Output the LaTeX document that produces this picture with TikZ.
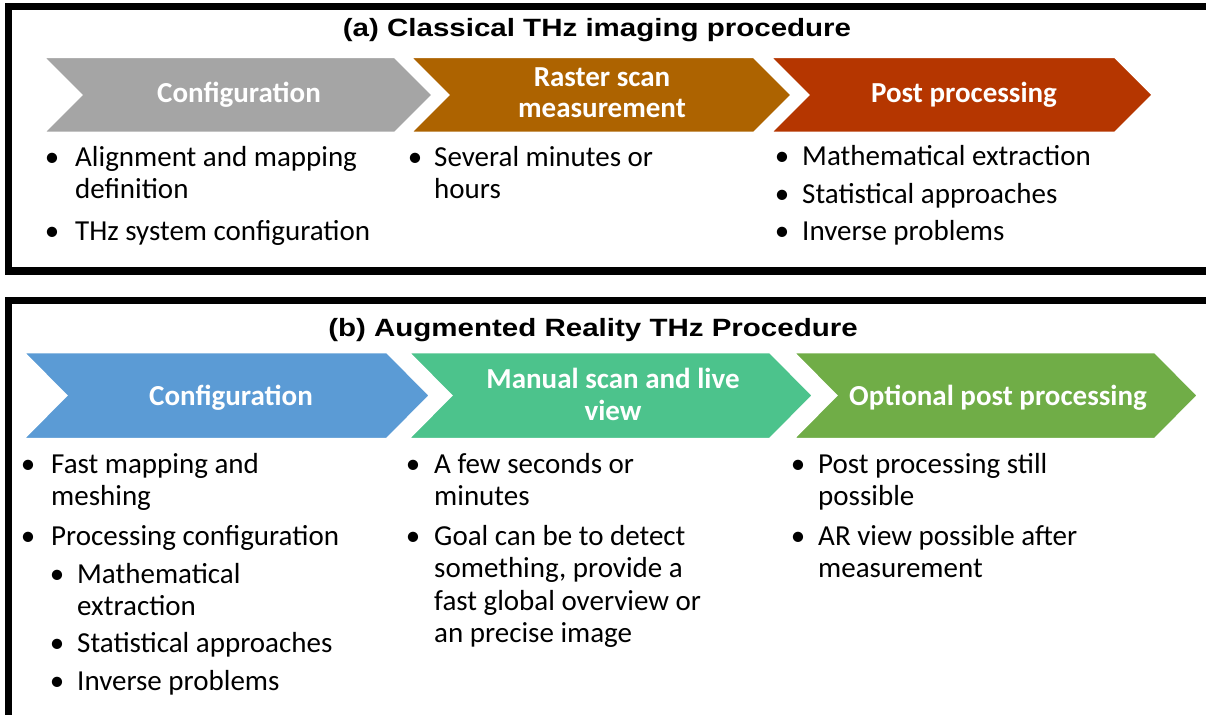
\documentclass[tikz,border=0pt]{standalone}
\usepackage{fontspec}
\newfontfamily\calibri{Carlito}
\newfontfamily\arialfam{Liberation Sans}
\newcommand\bodyfont{\calibri\fontsize{29}{31}\selectfont}
\newcommand\chevfont{\calibri\bfseries\fontsize{29}{31}\selectfont}
\newcommand\titlefont{\arialfam\bfseries\fontsize{25}{30}\selectfont}
\newcommand\widetitle[1]{\scalebox{1.18}[1]{#1}}
\definecolor{cgray}{HTML}{A5A5A5}
\definecolor{cbrown}{HTML}{AD6300}
\definecolor{cred}{HTML}{B53600}
\definecolor{cblue}{HTML}{5B9BD5}
\definecolor{cteal}{HTML}{4CC38C}
\definecolor{cgreen}{HTML}{70AD47}
\tikzset{
  frame/.style={draw=black, line width=7.5pt},
  chevshape/.style={draw=white, line width=2.5pt, line join=miter},
  chevtxt/.style={font=\chevfont, text=white, inner sep=0pt, anchor=base},
  ttl/.style={font=\titlefont, text=black, inner sep=0pt, anchor=base},
  bodytxt/.style={font=\bodyfont, text=black, inner sep=0pt, anchor=base west},
  bul/.style={font=\bodyfont, text=black, inner sep=0pt, anchor=base},
}
% #1 left x, #2 top y, #3 width, #4 height, #5 depth, #6 colour
\newcommand\mychev[6]{%
  \path[chevshape, fill=#6] (#1,#2) -- ({#1+#3-#5},#2) -- ({#1+#3},{#2+#4/2})
    -- ({#1+#3-#5},{#2+#4}) -- (#1,{#2+#4}) -- ({#1+#5},{#2+#4/2}) -- cycle;}
\begin{document}
\begin{tikzpicture}[x=1pt,y=-1pt]
\useasboundingbox (0,0) rectangle (1206,714);
\clip (0,0) rectangle (1206,714);
\fill[white] (0,0) rectangle (1206,714);
% frames
\draw[frame] (8.5,6.7) rectangle (1220,271);
\draw[frame] (8.5,300.5) rectangle (1220,720);

% ---------- (a) ----------
\node[ttl] (ta) at (597,37) {\widetitle{(a) Classical THz imaging procedure}};
\mychev{43}{57}{390}{76}{38}{cgray}
\mychev{410}{57}{382}{76}{38}{cbrown}
\mychev{770}{57}{383}{76}{38}{cred}
\node[chevtxt] (ca1) at (239,103) {Configuration};
\node[chevtxt] (ca2a) at (602,87) {Raster scan};
\node[chevtxt] (ca2b) at (602,118) {measurement};
\node[chevtxt] (ca3) at (964,103) {Post processing};

\node[bul] (ba11) at (52,167) {•};
\node[bodytxt] (ia11) at (75,167) {Alignment and mapping};
\node[bodytxt] (ia12) at (75,198) {definition};
\node[bul] (ba12) at (52,240) {•};
\node[bodytxt] (ia13) at (75,240) {THz system configuration};

\node[bul] (ba21) at (415,167) {•};
\node[bodytxt] (ia21) at (434,167) {Several minutes or};
\node[bodytxt] (ia22) at (434,198) {hours};

\node[bul] (ba31) at (782,165) {•};
\node[bodytxt] (ia31) at (802,165) {Mathematical extraction};
\node[bul] (ba32) at (782,203) {•};
\node[bodytxt] (ia32) at (802,203) {Statistical approaches};
\node[bul] (ba33) at (782,240) {•};
\node[bodytxt] (ia33) at (802,240) {Inverse problems};

% ---------- (b) ----------
\node[ttl] (tb) at (593,336) {\widetitle{(b) Augmented Reality THz Procedure}};
\mychev{23}{352}{407}{87}{43}{cblue}
\mychev{408}{352}{405}{87}{43}{cteal}
\mychev{793}{352}{405}{87}{43}{cgreen}
\node[chevtxt] (cb1) at (231,405) {Configuration};
\node[chevtxt] (cb2a) at (613,388) {Manual scan and live};
\node[chevtxt] (cb2b) at (613,420) {view};
\node[chevtxt] (cb3) at (998,405) {Optional post processing};

\node[bul] (bb11) at (28,473) {•};
\node[bodytxt] (ib11) at (51,473) {Fast mapping and};
\node[bodytxt] (ib12) at (51,505) {meshing};
\node[bul] (bb12) at (28,545) {•};
\node[bodytxt] (ib13) at (51,545) {Processing configuration};
\node[bul] (bb13) at (57,583) {•};
\node[bodytxt] (ib14) at (77,583) {Mathematical};
\node[bodytxt] (ib15) at (77,615) {extraction};
\node[bul] (bb14) at (57,652) {•};
\node[bodytxt] (ib16) at (77,652) {Statistical approaches};
\node[bul] (bb15) at (57,690) {•};
\node[bodytxt] (ib17) at (77,690) {Inverse problems};

\node[bul] (bb21) at (413,473) {•};
\node[bodytxt] (ib21) at (434,473) {A few seconds or};
\node[bodytxt] (ib22) at (434,505) {minutes};
\node[bul] (bb22) at (413,545) {•};
\node[bodytxt] (ib23) at (434,545) {Goal can be to detect};
\node[bodytxt] (ib24) at (434,577) {something, provide a};
\node[bodytxt] (ib25) at (434,610) {fast global overview or};
\node[bodytxt] (ib26) at (434,642) {an precise image};

\node[bul] (bb31) at (798,473) {•};
\node[bodytxt] (ib31) at (818,473) {Post processing still};
\node[bodytxt] (ib32) at (818,505) {possible};
\node[bul] (bb32) at (798,545) {•};
\node[bodytxt] (ib33) at (818,545) {AR view possible after};
\node[bodytxt] (ib34) at (818,577) {measurement};
\end{tikzpicture}
\end{document}
